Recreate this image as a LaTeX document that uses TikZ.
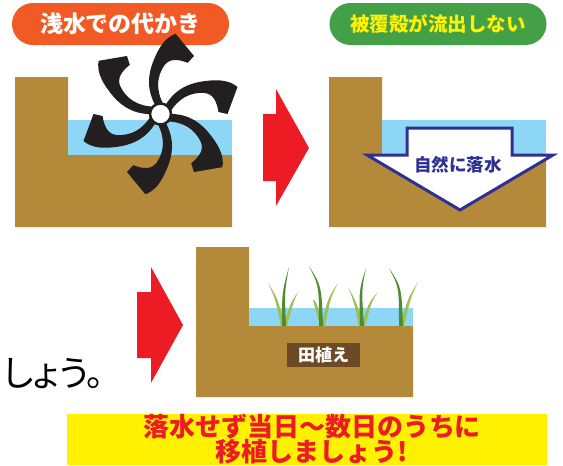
\documentclass[tikz,border=0pt]{standalone}
\usepackage{fontspec}
\newfontfamily\jp{Noto Sans CJK JP}
\newfontfamily\jpprop{Noto Sans CJK JP}[RawFeature=+palt]

\definecolor{soil}{HTML}{B5893A}
\definecolor{water}{HTML}{8DD6F6}
\definecolor{tiller}{HTML}{231F20}
\definecolor{arrowred}{HTML}{ED1C24}
\definecolor{pillorange}{HTML}{F15A24}
\definecolor{pillgreen}{HTML}{43A047}
\definecolor{pilltext}{HTML}{FFF200}
\definecolor{navy}{HTML}{2E3192}
\definecolor{darksoil}{HTML}{6B4A25}
\definecolor{bannery}{HTML}{FFF100}
\definecolor{leafdark}{HTML}{4E8B31}
\definecolor{leaflight}{HTML}{9CC055}

% one tapering rice leaf: base x, bend point x,y, tip x,y, colour
\newcommand{\riceleaf}[6]{%
  \fill[#6] (#1-2,326) .. controls (#2-1,#3) .. (#4,#5)
            .. controls (#2+1.5,#3) .. (#1+2,326) -- cycle;}

\tikzset{
  soilfill/.style={fill=soil},
  waterfill/.style={fill=water},
  pill/.style={rounded corners=21pt, minimum width=217pt, minimum height=42pt,
               inner sep=0pt, font=\jp\bfseries},
  bigarrow/.style={fill=arrowred},
  blade/.style={fill=tiller},
  jptext/.style={inner sep=0pt, font=\jp\bfseries},
}

\begin{document}
\begin{tikzpicture}[x=1pt, y=-1pt]
\useasboundingbox (0,0) rectangle (563,466);

% ---------- headings ----------
\node[pill, fill=pillorange, text=white, font=\jp\bfseries\fontsize{23}{26}\selectfont]
  (head1) at (120.5,24) {浅水での代かき};
\node[pill, fill=pillgreen, text=pilltext, font=\jp\bfseries\fontsize{19.5}{23}\selectfont]
  (head2) at (438,24) {被覆殻が流出しない};

% ---------- panel 1: puddling in shallow water ----------
\fill[soilfill] (15,77) -- (68,77) -- (68,155) -- (232,155) -- (232,227) -- (15,227) -- cycle;
\fill[waterfill] (68,120) rectangle (232,155);

\foreach \k in {0,...,5}{
  \begin{scope}[shift={(160.5,114)}, yscale=-1, rotate=60*\k]
    \fill[blade] (5,9) .. controls (15,25) and (28,31) .. (45,33)
                 .. controls (60,35) and (70,33) .. (77,27) -- (67,0) -- (58,2)
                 .. controls (56,14) and (52,20) .. (44,21)
                 .. controls (30,22) and (18,16) .. (9,1) -- cycle;
  \end{scope}
}
\node[circle, fill=white, draw=tiller, line width=2.5pt, minimum size=21pt,
      inner sep=0pt] (hub) at (160.5,114) {};

% ---------- arrow 1 ----------
\fill[bigarrow] (263,114) -- (276,114) -- (276,89) -- (309,148) -- (276,206)
                -- (276,181) -- (263,181) -- cycle;

% ---------- panel 2: draining naturally ----------
\fill[soilfill] (329,77) -- (382,77) -- (382,155) -- (546,155) -- (546,227) -- (329,227) -- cycle;
\fill[waterfill] (382,120) rectangle (546,155);
\draw[navy, fill=white, line width=3pt, line join=miter]
  (407,128) -- (512,128) -- (512,155) -- (553,155) -- (460,210) -- (367,155)
  -- (407,155) -- cycle;
\node[jptext, text=navy, font=\jp\bfseries\fontsize{17.5}{20}\selectfont]
  (drain) at (458,165) {自然に落水};

% ---------- arrow 2 ----------
\fill[bigarrow] (137,292) -- (151,292) -- (151,267) -- (183,325) -- (151,383)
                -- (151,358) -- (137,358) -- cycle;

% ---------- panel 3: transplanting ----------
\fill[soilfill] (196,247) -- (249,247) -- (249,326) -- (413,326) -- (413,397) -- (196,397) -- cycle;
\fill[waterfill] (249,308) rectangle (413,326);

% rice seedlings
\riceleaf{283}{276}{298}{268}{283}{leaflight}
\riceleaf{285}{292}{302}{298}{292}{leaflight}
\riceleaf{284}{283}{292}{289}{267}{leafdark}
\riceleaf{322}{314}{300}{313}{300}{leaflight}
\riceleaf{323}{329}{298}{338}{283}{leaflight}
\riceleaf{321}{320}{286}{309}{266}{leafdark}
\riceleaf{361}{355}{302}{348}{287}{leaflight}
\riceleaf{363}{370}{302}{378}{292}{leaflight}
\riceleaf{362}{360}{290}{366}{268}{leafdark}
\riceleaf{402}{409}{298}{418}{282}{leaflight}
\riceleaf{401}{400}{287}{389}{268}{leafdark}

\node[fill=darksoil, minimum width=73pt, minimum height=24pt, inner sep=0pt,
      text=white, font=\jp\bfseries\fontsize{17}{20}\selectfont]
  (plant) at (323.5,355) {田植え};

% ---------- text fragment at the left ----------
\node[anchor=west, inner sep=0pt, font=\jpprop\fontsize{36}{40}\selectfont]
  (tail) at (3,374) {しょう。};

% ---------- banner ----------
\node[fill=bannery, minimum width=480pt, minimum height=51pt, inner sep=0pt]
  (banner) at (307,439.5) {};
\node[align=center, inner sep=0pt, text=arrowred,
      font=\jp\bfseries\fontsize{26}{25}\selectfont]
  (bannertext) at (312,439) {落水せず当日～数日のうちに\\移植しましょう!};
\end{tikzpicture}
\end{document}
